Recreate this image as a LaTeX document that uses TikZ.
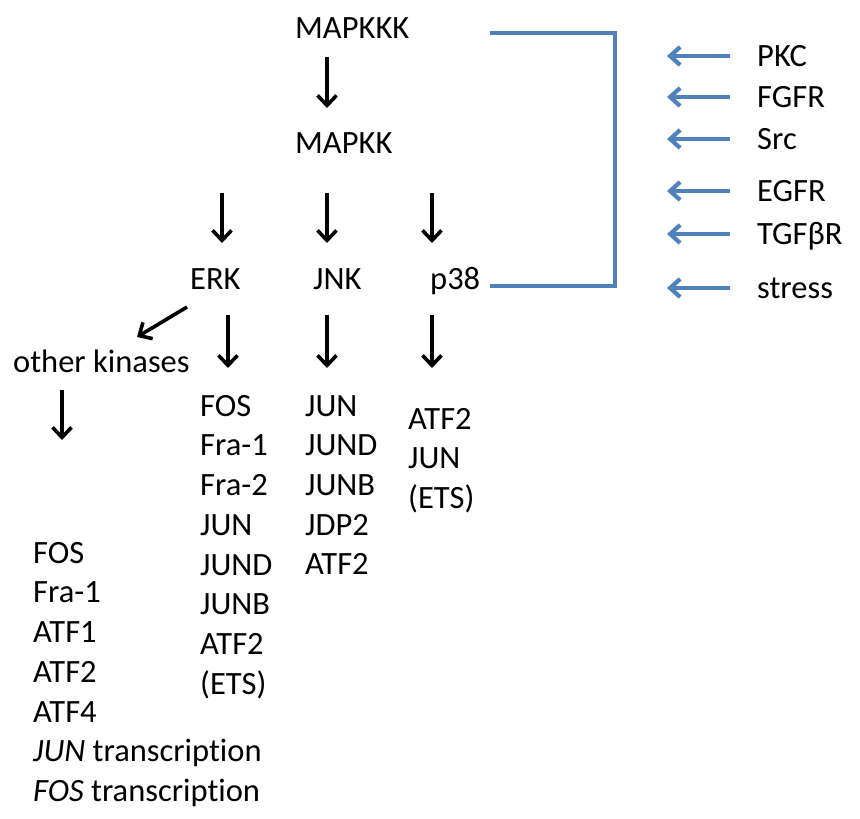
\documentclass[tikz,border=0pt]{standalone}
\usepackage{fontspec}
\setmainfont{Carlito}[Ligatures=NoCommon]
\usetikzlibrary{arrows.meta,positioning}
\definecolor{sigblue}{HTML}{4F81BD}

\begin{document}
\begin{tikzpicture}[
  x=1pt, y=-1pt,
  font=\fontsize{32.5pt}{39.7pt}\selectfont,
  line/.style={-{Straight Barb[length=10pt,width=19pt]}, line width=3.6pt},
  sigline/.style={-{Straight Barb[length=10pt,width=18pt]}, line width=4.2pt, draw=sigblue},
  link/.style={line width=3.8pt, draw=sigblue},
  txt/.style={anchor=base west, inner sep=0pt},
  gene/.style={anchor=north west, inner sep=0pt, align=left},
  signal/.style={anchor=west, inner sep=0pt, text height=20pt, text depth=0pt}
]
\useasboundingbox (0,0) rectangle (860,819);

% Kinase cascade
\node[txt] (mapkkk) at (295,38) {MAPKKK};
\node[txt] (mapkk) at (295,153) {MAPKK};
\node[txt] (erk) at (190,289) {ERK};
\node[txt] (jnk) at (313,289) {JNK};
\node[txt] (p38) at (430,289) {p38};
\node[txt] (other) at (13,372) {other kinases};

% Targets
\node[gene] (erklist) at (200,395) {FOS\\Fra-1\\Fra-2\\JUN\\JUND\\JUNB\\ATF2\\(ETS)};
\node[gene] (jnklist) at (305,395) {JUN\\JUND\\JUNB\\JDP2\\ATF2};
\node[gene] (p38list) at (408,408) {ATF2\\JUN\\(ETS)};
\node[gene] (otherlist) at (33,542) {FOS\\Fra-1\\ATF1\\ATF2\\ATF4\\\textit{JUN} transcription\\\textit{FOS} transcription};

% Upstream signals
\node[signal] (pkc) at (757,56) {PKC};
\node[signal] (fgfr) at (757,97) {FGFR};
\node[signal] (src) at (757,139) {Src};
\node[signal] (egfr) at (757,191) {EGFR};
\node[signal] (tgfbr) at (757,234) {TGFβR};
\node[signal] (stress) at (757,288) {stress};

% Arrows (cascade)
\draw[line] ([shift={(32,19)}]mapkkk.base west) -- ([shift={(32,-45)}]mapkk.base west);
\draw[line] ([shift={(-73,40)}]mapkk.base west) -- ([shift={(32,-46)}]erk.base west);
\draw[line] ([shift={(32,40)}]mapkk.base west) -- ([shift={(14,-46)}]jnk.base west);
\draw[line] ([shift={(137,40)}]mapkk.base west) -- ([shift={(2,-46)}]p38.base west);
\draw[line] ([shift={(-3,18)}]erk.base west) -- ([shift={(124,-35)}]other.base west);
\draw[line] ([shift={(38,26)}]erk.base west) -- ([shift={(28,-27)}]erklist.north west);
\draw[line] ([shift={(14,26)}]jnk.base west) -- ([shift={(22,-27)}]jnklist.north west);
\draw[line] ([shift={(2,26)}]p38.base west) -- ([shift={(24,-40)}]p38list.north west);
\draw[line] ([shift={(49,18)}]other.base west) -- ([shift={(29,-102)}]otherlist.north west);

% Bracket and signal arrows
\coordinate (brtop) at (490,33);
\coordinate (brbot) at (490,286);
\draw[link] (brtop) -- ++(125,0) |- (brbot);
\foreach \s in {pkc,fgfr,src,egfr,tgfbr,stress}
  \draw[sigline] ([xshift=-27pt]\s.west) -- ([xshift=-90pt]\s.west);

\end{tikzpicture}
\end{document}
